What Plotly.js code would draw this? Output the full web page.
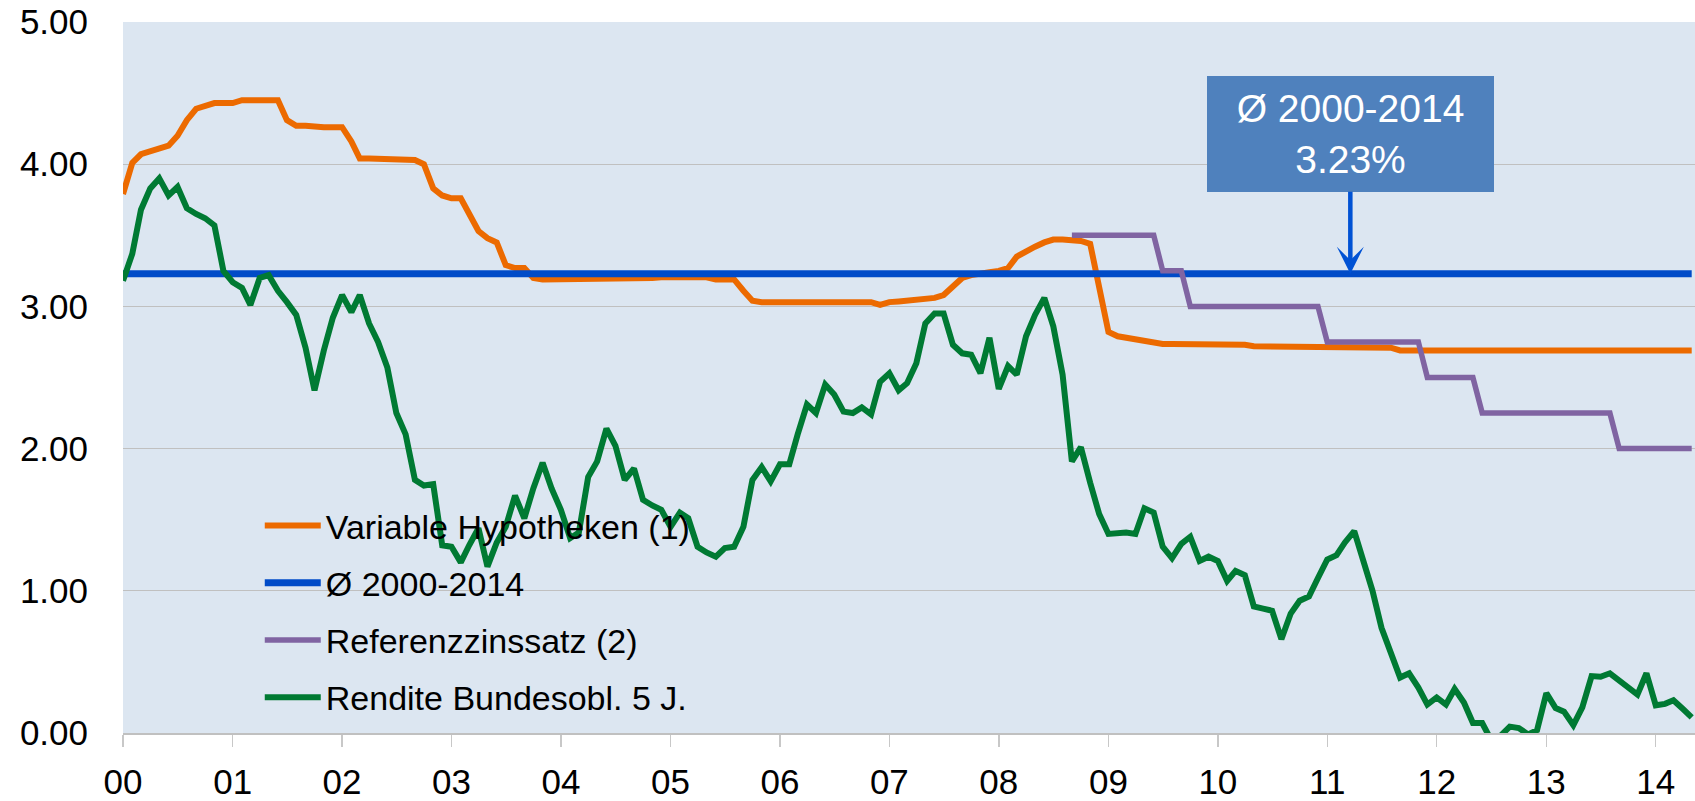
<!DOCTYPE html>
<html>
<head>
<meta charset="utf-8">
<script src="https://cdn.plot.ly/plotly-3.0.1.min.js"></script>
<style>
html,body{margin:0;padding:0;background:#ffffff;}
#chart{width:1695px;height:801px;}
</style>
</head>
<body>
<div id="chart"></div>
<script>
// ---- Data ----
const startYear = 2000;
const tickYears = [2000,2001,2002,2003,2004,2005,2006,2007,2008,2009,2010,2011,2012,2013,2014];
const tickLabels = ['00','01','02','03','04','05','06','07','08','09','10','11','12','13','14'];

const seriesNames = ['Variable Hypotheken (1)', 'Ø 2000-2014', 'Referenzzinssatz (2)', 'Rendite Bundesobl. 5 J.'];

// Monthly values, Jan 2000 - May 2014
const hypoValues = [
  3.79,4.01,4.07,4.09,4.10,4.13,4.20,4.31,4.39,4.41,
  4.43,4.43,4.43,4.45,4.45,4.45,4.45,4.45,4.31,4.27,
  4.27,4.26,4.26,4.26,4.26,4.16,4.04,4.04,4.04,4.04,
  4.04,4.03,4.03,4.00,3.83,3.78,3.76,3.76,3.66,3.53,
  3.48,3.45,3.29,3.27,3.27,3.20,3.19,3.19,3.19,3.19,
  3.19,3.19,3.19,3.19,3.19,3.19,3.19,3.19,3.20,3.205,
  3.205,3.205,3.205,3.205,3.205,3.19,3.19,3.19,3.11,3.04,
  3.03,3.03,3.03,3.03,3.03,3.03,3.03,3.03,3.03,3.03,
  3.03,3.03,3.03,3.01,3.03,3.035,3.04,3.05,3.05,3.06,
  3.08,3.14,3.20,3.22,3.235,3.24,3.25,3.27,3.35,3.39,
  3.42,3.45,3.47,3.47,3.47,3.46,3.44,3.11,2.82,2.79,
  2.78,2.76,2.755,2.745,2.735,2.735,2.735,2.735,2.735,2.735,
  2.735,2.735,2.735,2.73,2.72,2.72,2.72,2.72,2.72,2.72,
  2.72,2.72,2.72,2.72,2.72,2.72,2.72,2.72,2.72,2.71,
  2.69,2.69,2.69,2.69,2.69,2.69,2.69,2.69,2.69,2.69,
  2.69,2.68,2.69,2.69,2.69,2.69,2.69,2.69,2.68,2.69,
  2.69,2.69,2.69,2.69,2.69,2.69,2.69,2.69,2.69,2.69,
  2.69,2.69,2.69
];

const bondValues = [
  3.18,3.37,3.68,3.83,3.90,3.78,3.84,3.69,3.65,3.62,
  3.57,3.25,3.17,3.13,3.01,3.20,3.22,3.11,3.03,2.94,
  2.71,2.41,2.69,2.92,3.08,2.96,3.08,2.88,2.75,2.57,
  2.25,2.10,1.78,1.74,1.75,1.32,1.31,1.20,1.32,1.44,
  1.17,1.34,1.45,1.67,1.51,1.72,1.90,1.72,1.57,1.37,
  1.41,1.80,1.91,2.14,2.02,1.78,1.86,1.64,1.60,1.57,
  1.45,1.55,1.51,1.31,1.27,1.24,1.30,1.31,1.45,1.78,
  1.87,1.77,1.89,1.89,2.10,2.31,2.25,2.45,2.38,2.26,
  2.25,2.29,2.24,2.47,2.53,2.41,2.46,2.60,2.88,2.95,
  2.95,2.73,2.67,2.66,2.53,2.78,2.42,2.58,2.52,2.79,
  2.94,3.06,2.86,2.52,1.91,2.01,1.76,1.54,1.40,1.405,
  1.41,1.40,1.58,1.55,1.31,1.23,1.33,1.38,1.21,1.24,
  1.21,1.07,1.14,1.11,0.89,0.875,0.86,0.66,0.84,0.93,
  0.96,1.09,1.22,1.25,1.34,1.42,1.20,1.00,0.74,0.565,
  0.39,0.42,0.32,0.20,0.25,0.20,0.31,0.215,0.07,0.07,
  -0.05,-0.02,0.045,0.035,-0.01,0.02,0.28,0.175,0.15,0.055,
  0.18,0.40,0.395,0.42,0.37,0.33,0.27,0.42,0.195,0.205,
  0.23,0.17,0.11
];

const averageValue = 3.23;

// Reference rate (step changes, monthly)
const refDates  = ['2008-09-01','2009-06-01','2009-07-01','2009-09-01','2009-10-01','2010-12-01','2011-01-01','2011-11-01','2011-12-01','2012-05-01','2012-06-01','2013-08-01','2013-09-01','2014-05-01'];
const refValues = [3.50,3.50,3.25,3.25,3.00,3.00,2.75,2.75,2.50,2.50,2.25,2.25,2.00,2.00];

// ---- Build ----
function monthDate(i){
  const y = startYear + Math.floor(i/12);
  const m = (i % 12) + 1;
  return y + '-' + String(m).padStart(2,'0') + '-01';
}
const months = hypoValues.map((_, i) => monthDate(i));
const tickDates = tickYears.map(y => y + '-01-01');

const FONT = 'Liberation Sans, Arial, sans-serif';
const colors = {hypo:'#EC6A00', avg:'#004BC8', ref:'#8064A2', bond:'#007A33'};

const traces = [
  {x: months, y: hypoValues, name: seriesNames[0], type:'scatter', mode:'lines', legendgroup:'g1',
   line:{color:colors.hypo, width:6}, hoverinfo:'skip'},
  {x: months, y: months.map(() => averageValue), name: seriesNames[1], type:'scatter', mode:'lines', legendgroup:'g2',
   line:{color:colors.avg, width:7}, hoverinfo:'skip'},
  {x: refDates, y: refValues, name: seriesNames[2], type:'scatter', mode:'lines', legendgroup:'g3',
   line:{color:colors.ref, width:5.5}, hoverinfo:'skip'},
  {x: months, y: bondValues, name: seriesNames[3], type:'scatter', mode:'lines', legendgroup:'g4',
   line:{color:colors.bond, width:6}, hoverinfo:'skip'}
];

const xRange = ['2000-01-01','2014-05-12'];

const layout = {
  width:1695, height:801,
  margin:{l:123, r:0, t:22, b:68, pad:0},
  paper_bgcolor:'#ffffff',
  plot_bgcolor:'#DCE6F1',
  font:{family:FONT, color:'#000000', size:34},
  showlegend:true,
  legend:{
    x:0.087, y:0.332, xanchor:'left', yanchor:'top',
    bgcolor:'rgba(0,0,0,0)', borderwidth:0,
    font:{family:FONT, size:34, color:'#000000'},
    itemwidth:56, tracegroupgap:10, traceorder:'grouped'
  },
  xaxis:{
    type:'date', range:xRange,
    tickmode:'array', tickvals:tickDates, ticktext:tickLabels,
    ticks:'outside', ticklen:12, tickwidth:1.5, tickcolor:'#C8C8C8',
    tickfont:{family:FONT, size:35, color:'#000000'},
    ticklabelstandoff:5,
    showgrid:false, zeroline:false,
    showline:true, linecolor:'#C0C0C0', linewidth:1.5,
    fixedrange:true
  },
  xaxis2:{
    type:'date', range:xRange, overlaying:'x', anchor:'y', side:'bottom',
    tickmode:'array', tickvals:tickDates,
    ticks:'inside', ticklen:12, tickwidth:1.5, tickcolor:'#C8C8C8',
    showticklabels:false, showgrid:false, zeroline:false, showline:false
  },
  yaxis:{
    range:[0,5], tickmode:'linear', tick0:0, dtick:1, tickformat:'.2f',
    ticks:'', ticklabelstandoff:34,
    tickfont:{family:FONT, size:35, color:'#000000'},
    showgrid:true, gridcolor:'#C0C0C0', gridwidth:1.2,
    zeroline:true, zerolinecolor:'#C0C0C0', zerolinewidth:1.5,
    showline:false, fixedrange:true
  },
  annotations:[{
    x:'2011-03-19', y:averageValue, xref:'x', yref:'y',
    text:'Ø 2000-2014<br>' + averageValue.toFixed(2) + '%',
    showarrow:true, arrowhead:3, arrowsize:1, arrowwidth:4.5, arrowcolor:'#0052D4',
    ax:0, ay:-140, standoff:0,
    bgcolor:'#4F81BD', borderpad:0, borderwidth:0,
    width:287, height:116, align:'center', valign:'middle',
    font:{family:FONT, size:39, color:'#ffffff'}
  }]
};

Plotly.newPlot('chart', traces, layout, {displayModeBar:false, staticPlot:true});
</script>
</body>
</html>
